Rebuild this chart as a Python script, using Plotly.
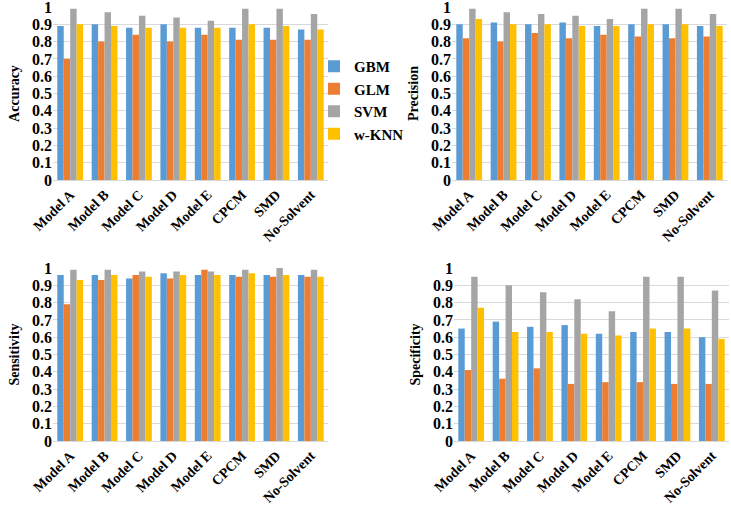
import plotly.graph_objects as go

categories = ["Model A", "Model B", "Model C", "Model D", "Model E", "CPCM", "SMD", "No-Solvent"]
series_names = ["GBM", "GLM", "SVM", "w-KNN"]

accuracy = {
    "GBM":   [0.89, 0.90, 0.88, 0.90, 0.88, 0.88, 0.88, 0.87],
    "GLM":   [0.70, 0.80, 0.84, 0.80, 0.84, 0.81, 0.81, 0.81],
    "SVM":   [0.99, 0.97, 0.95, 0.94, 0.92, 0.99, 0.99, 0.96],
    "w-KNN": [0.90, 0.89, 0.88, 0.88, 0.88, 0.90, 0.89, 0.87],
}
precision = {
    "GBM":   [0.90, 0.91, 0.90, 0.91, 0.89, 0.90, 0.90, 0.89],
    "GLM":   [0.82, 0.80, 0.85, 0.82, 0.84, 0.83, 0.82, 0.83],
    "SVM":   [0.99, 0.97, 0.96, 0.95, 0.93, 0.99, 0.99, 0.96],
    "w-KNN": [0.93, 0.90, 0.90, 0.89, 0.89, 0.90, 0.90, 0.89],
}
sensitivity = {
    "GBM":   [0.96, 0.96, 0.94, 0.97, 0.96, 0.96, 0.96, 0.96],
    "GLM":   [0.79, 0.93, 0.96, 0.94, 0.99, 0.95, 0.95, 0.95],
    "SVM":   [0.99, 0.99, 0.98, 0.98, 0.98, 0.99, 1.00, 0.99],
    "w-KNN": [0.93, 0.96, 0.95, 0.96, 0.96, 0.97, 0.96, 0.95],
}
specificity = {
    "GBM":   [0.65, 0.69, 0.66, 0.67, 0.62, 0.63, 0.63, 0.60],
    "GLM":   [0.41, 0.36, 0.42, 0.33, 0.34, 0.34, 0.33, 0.33],
    "SVM":   [0.95, 0.90, 0.86, 0.82, 0.75, 0.95, 0.95, 0.87],
    "w-KNN": [0.77, 0.63, 0.63, 0.62, 0.61, 0.65, 0.65, 0.59],
}
y_tick_vals = [0, 0.1, 0.2, 0.3, 0.4, 0.5, 0.6, 0.7, 0.8, 0.9, 1]
y_tick_text = ["0", "0.1", "0.2", "0.3", "0.4", "0.5", "0.6", "0.7", "0.8", "0.9", "1"]

colors = {"GBM": "#5B9BD5", "GLM": "#ED7D31", "SVM": "#A5A5A5", "w-KNN": "#FFC000"}

W, H = 731, 512
panels = [
    ("Accuracy", accuracy, (53, 328), (7, 180), "x", "y"),
    ("Precision", precision, (452, 727), (7, 180), "x2", "y2"),
    ("Sensitivity", sensitivity, (53, 328), (268, 441), "x3", "y3"),
    ("Specificity", specificity, (454, 729), (268, 441), "x4", "y4"),
]

FONT = "Liberation Serif"
fig = go.Figure()
layout = {}
for i, (title, data, (x0, x1), (ytop, ybot), xa, ya) in enumerate(panels):
    for name in series_names:
        fig.add_trace(go.Bar(
            x=categories, y=data[name], name=name,
            marker=dict(color=colors[name], line=dict(width=0)),
            xaxis=xa, yaxis=ya, showlegend=(i == 0), legendgroup=name,
        ))
    xkey = "xaxis" if xa == "x" else "xaxis" + xa[1:]
    ykey = "yaxis" if ya == "y" else "yaxis" + ya[1:]
    layout[xkey] = dict(
        domain=[x0 / W, x1 / W], anchor=ya, automargin=False,
        tickangle=-45, tickfont=dict(family=FONT, size=14, color="#000", weight="bold"),
        showline=True, linecolor="#D9D9D9", linewidth=1, ticks="", showgrid=False,
        ticklabeloverflow="allow",
    )
    layout[ykey] = dict(
        domain=[1 - ybot / H, 1 - ytop / H], anchor=xa, range=[0, 1], automargin=False,
        tickvals=y_tick_vals, ticktext=y_tick_text,
        tickfont=dict(family=FONT, size=16, color="#000", weight="bold"),
        showgrid=True, gridcolor="#D9D9D9", gridwidth=1, zeroline=False,
        showline=False, ticks="", ticklabeloverflow="allow",
        title=dict(text=title, font=dict(family=FONT, size=14, color="#000", weight="bold"), standoff=9),
    )

fig.update_layout(
    width=W, height=H,
    margin=dict(l=0, r=0, t=0, b=0),
    paper_bgcolor="white", plot_bgcolor="white",
    barmode="group", bargap=0.25, bargroupgap=0,
    legend=dict(
        x=314 / W, y=1 - 50 / H, xanchor="left", yanchor="top",
        font=dict(family=FONT, size=15, color="#000", weight="bold"),
        tracegroupgap=0, bgcolor="rgba(0,0,0,0)", itemwidth=30,
    ),
    **layout,
)

fig.write_html(
    "out.html",
    config={"displayModeBar": False},
    post_script="document.body.style.margin='0';document.body.style.overflow='hidden';",
)
